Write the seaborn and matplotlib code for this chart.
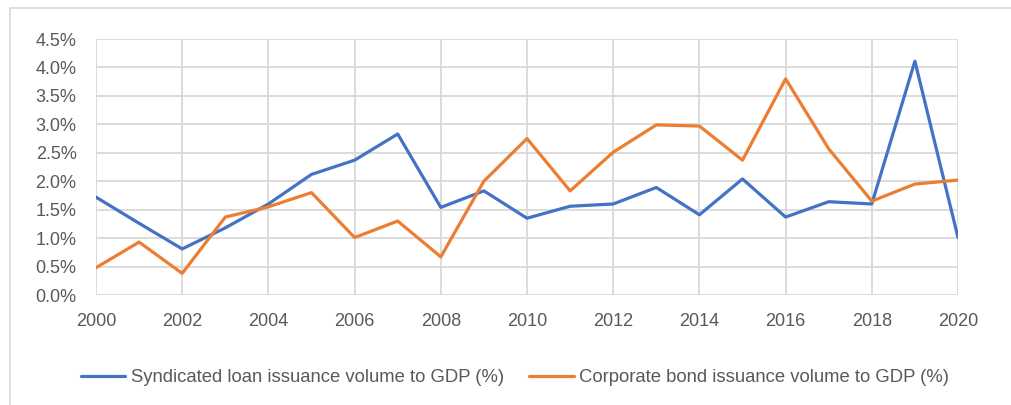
import matplotlib
matplotlib.use("Agg")
import matplotlib.pyplot as plt
from matplotlib.patches import Rectangle
from matplotlib.ticker import FuncFormatter, MultipleLocator
import pandas as pd
import seaborn as sns

years = list(range(2000, 2021))
syndicated_loan = [1.72, 1.26, 0.81, 1.18, 1.60, 2.12, 2.37, 2.83, 1.54, 1.83, 1.35,
                   1.56, 1.60, 1.89, 1.41, 2.04, 1.37, 1.64, 1.60, 4.11, 1.01]
corporate_bond = [0.48, 0.93, 0.38, 1.37, 1.55, 1.80, 1.01, 1.30, 0.67, 2.00, 2.75,
                  1.83, 2.51, 2.99, 2.97, 2.37, 3.80, 2.57, 1.65, 1.95, 2.02]
series_names = ["Syndicated loan issuance volume to GDP (%)",
                "Corporate bond issuance volume to GDP (%)"]
colors = ["#4472C4", "#ED7D31"]

df = pd.DataFrame({
    "year": years * 2,
    "value": syndicated_loan + corporate_bond,
    "series": [series_names[0]] * len(years) + [series_names[1]] * len(years),
})

sns.set_theme(style="white")
plt.rcParams["font.family"] = ["Liberation Sans", "DejaVu Sans"]

W, H = 1012, 405
fig = plt.figure(figsize=(W / 100, H / 100), dpi=100)
fig.patches.append(Rectangle((10 / W, -0.1), 1.2, 1 - 8 / H + 0.1,
                             transform=fig.transFigure, fill=False,
                             edgecolor="#d9d9d9", linewidth=1.2))
ax = fig.add_axes([96 / W, 1 - 295 / H, (958 - 96) / W, (295 - 39) / H])

sns.lineplot(data=df, x="year", y="value", hue="series", palette=colors,
             linewidth=2.3, ax=ax, legend=False)

ax.set_xlim(2000, 2020)
ax.set_ylim(0, 4.5)
ax.xaxis.set_major_locator(MultipleLocator(2))
ax.yaxis.set_major_locator(MultipleLocator(0.5))
ax.yaxis.set_major_formatter(FuncFormatter(lambda v, _: f"{v:.1f}%"))
ax.grid(True, color="#d9d9d9", linewidth=1.3)
ax.set_axisbelow(True)
for s in ax.spines.values():
    s.set_visible(False)
ax.tick_params(axis="both", length=0, labelsize=13, labelcolor="#595959")
ax.tick_params(axis="x", pad=13)
ax.tick_params(axis="y", pad=14)
ax.set_xlabel("")
ax.set_ylabel("")

handles = [plt.Line2D([], [], color=c, linewidth=2.3) for c in colors]
fig.legend(handles, series_names, loc="center", bbox_to_anchor=(515 / W, 1 - 378 / H),
           ncol=2, frameon=False, fontsize=13.3, labelcolor="#595959",
           handlelength=2.4, handletextpad=0.3, columnspacing=1.4)

fig.savefig("out.png", dpi=100, facecolor="white")
